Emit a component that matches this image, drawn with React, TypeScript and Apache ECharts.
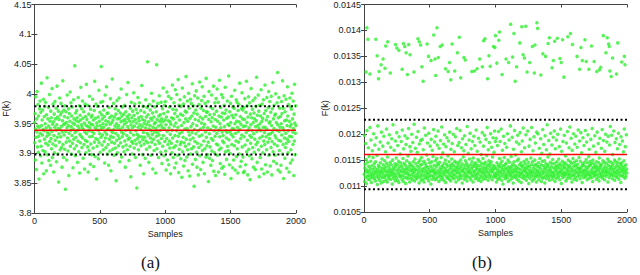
import React, { useEffect, useRef } from "react";
import * as echarts from "echarts";

// ---- data ----
const sampleStep = 2; // every 2nd sample shown
const leftValues = [
3.952,3.918,3.967,3.889,3.941,3.995,3.927,3.873,3.958,3.936,4.004,3.911,3.946,3.982,3.902,3.963,3.929,3.857,3.944,3.975,
3.921,3.988,3.934,3.896,3.969,3.912,4.018,3.947,3.884,3.956,3.931,3.973,3.905,3.940,3.991,3.866,3.938,3.962,3.924,3.979,
3.903,3.950,3.986,3.917,3.943,3.871,3.965,3.929,4.027,3.935,3.898,3.958,3.914,3.977,3.946,3.888,3.932,3.999,3.920,3.954,
3.942,3.880,3.971,3.925,3.960,3.908,3.937,4.009,3.893,3.949,3.916,3.983,3.953,3.869,3.930,3.966,3.901,3.944,3.987,3.922,
3.958,3.913,3.939,3.976,3.886,3.948,4.013,3.927,3.961,3.899,3.942,3.971,3.852,3.933,3.957,3.919,3.993,3.940,3.906,3.965,
3.928,3.984,3.945,3.910,3.969,3.877,3.936,3.955,4.022,3.915,3.948,3.893,3.973,3.931,3.962,3.907,3.950,3.980,3.840,3.937,
3.970,3.919,3.952,3.889,3.943,3.998,3.926,3.960,3.904,3.947,3.975,3.863,3.934,3.967,3.921,3.954,4.003,3.912,3.939,3.985,
3.945,3.899,3.963,3.930,3.978,3.917,3.951,3.876,3.941,3.990,3.924,3.958,3.908,3.949,4.047,3.935,3.896,3.968,3.927,3.955,
3.913,3.972,3.938,3.960,3.885,3.946,3.921,3.994,3.953,3.903,3.942,3.980,3.867,3.932,3.964,3.918,3.956,4.011,3.929,3.948,
3.975,3.910,3.944,3.988,3.926,3.959,3.892,3.940,3.970,3.915,3.951,3.874,3.936,3.983,3.922,3.962,3.901,3.947,4.016,3.933,
3.957,3.920,3.981,3.911,3.945,3.869,3.938,3.966,3.905,3.952,3.996,3.928,3.943,3.882,3.974,3.916,3.949,3.961,3.898,3.937,
3.964,3.929,3.991,3.948,3.909,3.956,3.878,3.934,3.972,3.919,4.021,3.943,3.895,3.959,3.925,3.983,3.940,3.857,3.951,3.912,
3.946,3.979,3.923,3.961,3.891,3.939,4.006,3.918,3.954,3.933,3.969,3.902,3.947,3.986,3.927,4.046,3.942,3.965,3.914,3.958,
3.931,3.987,3.950,3.906,3.944,3.973,3.920,3.962,3.884,3.936,3.998,3.926,3.955,3.910,3.948,4.012,3.932,3.967,3.899,3.940,
3.968,3.915,3.953,3.880,3.942,3.977,3.924,3.960,3.904,3.949,3.992,3.929,3.871,3.938,3.963,3.919,3.952,4.025,3.935,3.907,
3.956,3.927,3.984,3.940,3.897,3.961,3.917,3.946,3.975,3.909,3.934,3.966,3.854,3.950,3.922,3.989,3.943,3.901,3.958,3.930,
3.972,3.913,3.947,3.993,3.925,3.959,3.886,3.941,3.968,3.918,3.953,4.008,3.936,3.894,3.963,3.928,3.978,3.944,3.911,3.955,
3.933,3.966,3.903,3.949,3.981,3.921,3.957,3.877,3.939,3.970,3.914,3.952,3.999,3.930,3.962,3.906,3.945,4.019,3.924,3.958,
3.940,3.888,3.965,3.926,3.954,3.912,3.976,3.935,3.861,3.948,3.986,3.920,3.960,3.899,3.943,3.971,3.917,3.953,3.931,4.002,
3.964,3.909,3.946,3.983,3.922,3.957,3.893,3.938,3.974,3.916,3.951,3.842,3.932,3.968,3.925,3.994,3.944,3.906,3.960,3.929,
3.955,3.985,3.919,3.948,3.880,3.940,3.972,3.913,3.962,3.928,4.014,3.945,3.898,3.957,3.923,3.979,3.935,3.866,3.950,3.916,
3.969,3.927,3.955,3.892,3.943,3.990,3.921,3.961,3.907,3.949,3.977,3.934,4.054,3.918,3.965,3.930,3.953,3.885,3.941,3.982,
3.911,3.947,3.973,3.926,3.959,3.897,3.938,4.001,3.919,3.956,3.932,3.968,3.874,3.944,3.988,3.924,3.961,3.905,3.950,3.936,
3.978,3.915,3.952,3.867,3.942,3.970,3.929,4.049,3.908,3.957,3.935,3.984,3.921,3.946,3.893,3.963,3.931,3.997,3.917,3.954,
3.939,3.965,3.902,3.948,3.986,3.925,3.958,3.883,3.944,3.975,3.912,3.953,4.010,3.930,3.967,3.896,3.942,3.981,3.920,3.956,
3.987,3.904,3.948,3.872,3.961,3.925,4.003,3.937,3.889,3.970,3.915,3.955,3.996,3.881,3.943,3.921,3.978,3.909,3.953,3.932,
3.866,3.949,3.992,3.917,3.960,3.901,3.939,4.015,3.926,3.974,3.893,3.958,3.910,3.985,3.946,3.876,3.967,3.930,4.007,3.913,
3.951,3.884,3.973,3.938,3.999,3.920,3.962,3.897,3.944,4.024,3.929,3.868,3.981,3.907,3.956,3.934,3.990,3.915,3.966,3.891,
3.979,3.919,3.947,3.860,3.936,4.010,3.903,3.964,3.927,3.983,3.879,3.952,3.918,3.995,3.941,3.888,3.971,3.912,3.958,4.029,
3.924,3.969,3.894,3.942,3.988,3.906,3.954,3.871,3.937,4.001,3.916,3.976,3.931,3.862,3.959,3.923,3.991,3.899,3.945,3.984,
3.908,3.963,3.935,4.017,3.882,3.950,3.926,3.980,3.911,3.968,3.845,3.940,3.997,3.920,3.957,3.890,3.973,3.933,4.005,3.902,
3.947,3.877,3.966,3.917,3.993,3.938,3.864,3.955,3.910,3.982,3.929,4.020,3.896,3.961,3.941,3.873,3.976,3.914,3.951,3.989,
3.931,4.012,3.905,3.958,3.885,3.944,3.972,3.921,3.996,3.866,3.949,3.908,3.984,3.936,3.962,3.894,4.026,3.927,3.969,3.913,
3.970,3.898,3.943,3.987,3.919,3.853,3.957,4.004,3.933,3.892,3.965,3.911,3.978,3.940,3.880,3.953,3.925,3.998,3.904,3.960,
3.888,3.975,3.922,3.946,4.013,3.870,3.938,3.966,3.901,3.985,3.929,3.957,3.863,3.944,3.992,3.916,3.971,3.934,4.008,3.897,
3.954,3.914,3.986,3.869,3.939,3.963,3.906,4.023,3.928,3.950,3.883,3.977,3.943,3.909,3.961,3.999,3.875,3.936,3.968,3.921,
3.994,3.930,3.878,3.956,3.918,3.981,3.945,3.865,3.967,4.011,3.903,3.938,3.973,3.926,3.890,3.959,3.935,3.988,3.912,3.949,
3.905,3.961,4.030,3.923,3.947,3.881,3.970,3.937,3.900,3.984,3.952,3.858,3.932,3.996,3.915,3.964,3.942,3.876,3.978,3.928,
3.960,3.889,3.941,3.976,3.913,4.006,3.950,3.872,3.934,3.965,3.921,3.990,3.895,3.954,3.986,3.908,3.944,3.867,3.972,3.937,
3.919,3.982,3.953,3.899,4.018,3.940,3.878,3.962,3.925,3.949,3.887,3.975,3.931,4.002,3.911,3.958,3.973,3.894,3.945,3.868,
3.977,3.928,3.870,3.957,3.992,3.914,3.946,3.881,3.969,3.935,4.021,3.903,3.952,3.980,3.922,3.864,3.961,3.939,3.995,3.907,
3.943,3.896,3.985,3.930,3.856,3.966,3.917,3.948,4.009,3.927,3.960,3.891,3.938,3.974,3.910,3.989,3.952,3.877,3.933,3.968,
3.902,3.958,3.924,3.993,3.873,3.945,3.979,3.915,3.955,4.028,3.937,3.885,3.964,3.919,3.947,3.998,3.906,3.971,3.942,3.861,
3.981,3.926,3.950,3.893,3.963,3.938,4.007,3.912,3.874,3.954,3.983,3.929,3.959,3.901,3.944,3.990,3.921,3.866,3.967,3.935,
3.915,4.015,3.944,3.881,3.972,3.928,3.956,3.906,3.994,3.940,3.869,3.962,3.919,3.977,3.932,4.004,3.897,3.951,3.925,3.987,
3.953,3.879,3.933,3.969,3.910,3.996,3.947,3.864,3.920,3.975,3.936,4.019,3.903,3.958,3.887,3.942,3.981,3.916,3.964,3.930,
3.897,3.966,4.000,3.926,3.952,3.883,3.939,3.985,3.913,4.036,3.948,3.872,3.960,3.922,3.994,3.937,3.905,3.976,3.944,3.869,
3.962,3.921,3.880,3.950,3.987,3.931,3.967,3.899,4.022,3.943,3.915,3.976,3.858,3.939,3.997,3.926,3.955,3.892,3.970,3.910,
3.934,3.991,3.917,3.956,3.875,3.947,3.924,4.012,3.963,3.901,3.938,3.982,3.920,3.869,3.954,3.929,3.993,3.945,3.884,3.978,
3.906,3.949,3.974,3.928,4.001,3.889,3.958,3.936,3.915,3.988,3.942,3.863,3.966,3.921,4.016,3.951,3.898,3.934,3.980,3.947,
];
const leftMean = 3.939;
const leftBounds = [3.979, 3.898];

const rightLowerValues = [
0.01123,0.01198,0.01109,0.01135,0.01142,0.01117,0.01182,0.01128,0.01151,0.01105,0.01131,0.01207,0.01119,0.01146,0.01126,0.01113,0.01174,0.01138,0.01121,0.01157,
0.01129,0.01112,0.01213,0.01134,0.01118,0.01148,0.01189,0.01125,0.01107,0.01139,0.01122,0.01168,0.01116,0.01132,0.01155,0.01120,0.01201,0.01127,0.01143,0.01114,
0.01136,0.01179,0.01124,0.01110,0.01147,0.01130,0.01193,0.01118,0.01126,0.01159,0.01103,0.01133,0.01216,0.01121,0.01140,0.01115,0.01171,0.01128,0.01137,0.01111,
0.01124,0.01185,0.01145,0.01119,0.01131,0.01106,0.01204,0.01127,0.01152,0.01116,0.01135,0.01177,0.01123,0.01141,0.01109,0.01196,0.01129,0.01117,0.01149,0.01133,
0.01120,0.01166,0.01137,0.01112,0.01127,0.01210,0.01144,0.01122,0.01108,0.01156,0.01130,0.01183,0.01118,0.01139,0.01125,0.01114,0.01199,0.01134,0.01120,0.01146,
0.01128,0.01175,0.01113,0.01141,0.01123,0.01191,0.01131,0.01104,0.01150,0.01126,0.01218,0.01119,0.01136,0.01115,0.01169,0.01132,0.01124,0.01143,0.01110,0.01187,
0.01138,0.01121,0.01154,0.01116,0.01203,0.01129,0.01142,0.01111,0.01178,0.01133,0.01125,0.01148,0.01107,0.01195,0.01122,0.01137,0.01118,0.01162,0.01130,0.01145,
0.01119,0.01186,0.01127,0.01139,0.01113,0.01208,0.01134,0.01121,0.01153,0.01109,0.01172,0.01128,0.01144,0.01116,0.01131,0.01197,0.01124,0.01140,0.01105,0.01180,
0.01135,0.01117,0.01149,0.01126,0.01192,0.01132,0.01114,0.01158,0.01123,0.01211,0.01137,0.01120,0.01145,0.01108,0.01176,0.01129,0.01141,0.01115,0.01167,0.01133,
0.01122,0.01200,0.01139,0.01112,0.01130,0.01184,0.01125,0.01147,0.01118,0.01136,0.01219,0.01127,0.01110,0.01152,0.01132,0.01173,0.01121,0.01143,0.01116,0.01194,
0.01131,0.01114,0.01165,0.01138,0.01124,0.01205,0.01119,0.01146,0.01128,0.01106,0.01181,0.01134,0.01150,0.01117,0.01140,0.01188,0.01123,0.01111,0.01155,0.01129,
0.01142,0.01190,0.01120,0.01133,0.01113,0.01170,0.01127,0.01148,0.01108,0.01212,0.01135,0.01122,0.01144,0.01116,0.01198,0.01130,0.01139,0.01119,0.01160,0.01126,
0.01115,0.01183,0.01136,0.01124,0.01151,0.01110,0.01202,0.01132,0.01118,0.01145,0.01127,0.01177,0.01121,0.01138,0.01104,0.01190,0.01129,0.01147,0.01113,0.01169,
0.01134,0.01120,0.01157,0.01128,0.01209,0.01117,0.01140,0.01125,0.01185,0.01131,0.01112,0.01149,0.01123,0.01196,0.01137,0.01114,0.01153,0.01126,0.01179,0.01143,
0.01118,0.01206,0.01130,0.01141,0.01109,0.01173,0.01124,0.01146,0.01119,0.01135,0.01188,0.01127,0.01113,0.01155,0.01132,0.01214,0.01121,0.01139,0.01116,0.01164,
0.01137,0.01125,0.01181,0.01111,0.01144,0.01128,0.01199,0.01122,0.01134,0.01150,0.01107,0.01176,0.01130,0.01118,0.01142,0.01193,0.01126,0.01138,0.01115,0.01158,
0.01129,0.01187,0.01120,0.01147,0.01113,0.01204,0.01133,0.01124,0.01140,0.01110,0.01171,0.01136,0.01119,0.01152,0.01127,0.01182,0.01143,0.01116,0.01131,0.01200,
0.01123,0.01139,0.01114,0.01166,0.01130,0.01148,0.01121,0.01195,0.01135,0.01108,0.01145,0.01128,0.01211,0.01117,0.01137,0.01125,0.01178,0.01132,0.01141,0.01112,
0.01146,0.01184,0.01126,0.01119,0.01134,0.01207,0.01122,0.01150,0.01115,0.01138,0.01174,0.01129,0.01143,0.01106,0.01191,0.01131,0.01120,0.01156,0.01127,0.01168,
0.01135,0.01113,0.01197,0.01140,0.01124,0.01149,0.01117,0.01180,0.01133,0.01121,0.01144,0.01110,0.01215,0.01128,0.01139,0.01118,0.01163,0.01136,0.01125,0.01189,
0.01130,0.01152,0.01116,0.01202,0.01127,0.01141,0.01112,0.01172,0.01134,0.01123,0.01147,0.01119,0.01186,0.01137,0.01108,0.01154,0.01129,0.01196,0.01142,0.01120,
0.01126,0.01178,0.01138,0.01114,0.01145,0.01131,0.01208,0.01122,0.01135,0.01117,0.01167,0.01140,0.01124,0.01151,0.01111,0.01192,0.01133,0.01128,0.01148,0.01115,
0.01139,0.01185,0.01121,0.01132,0.01109,0.01161,0.01127,0.01144,0.01118,0.01203,0.01136,0.01125,0.01153,0.01113,0.01177,0.01130,0.01142,0.01120,0.01198,0.01134,
0.01124,0.01146,0.01115,0.01190,0.01137,0.01128,0.01159,0.01119,0.01213,0.01133,0.01141,0.01111,0.01170,0.01126,0.01149,0.01122,0.01184,0.01138,0.01116,0.01143,
0.01131,0.01201,0.01120,0.01147,0.01127,0.01175,0.01135,0.01112,0.01156,0.01129,0.01193,0.01140,0.01118,0.01133,0.01165,0.01124,0.01206,0.01137,0.01121,0.01186,
0.01117,0.01134,0.01192,0.01108,0.01126,0.01145,0.01121,0.01178,0.01131,0.01113,0.01140,0.01205,0.01124,0.01137,0.01115,0.01153,0.01129,0.01186,0.01119,0.01143,
0.01127,0.01210,0.01136,0.01111,0.01148,0.01123,0.01169,0.01132,0.01104,0.01139,0.01196,0.01118,0.01130,0.01155,0.01125,0.01182,0.01141,0.01114,0.01135,0.01120,
0.01144,0.01122,0.01175,0.01133,0.01116,0.01201,0.01128,0.01150,0.01109,0.01137,0.01126,0.01189,0.01121,0.01146,0.01131,0.01112,0.01216,0.01135,0.01124,0.01157,
0.01119,0.01138,0.01129,0.01194,0.01115,0.01142,0.01125,0.01106,0.01171,0.01133,0.01147,0.01120,0.01207,0.01128,0.01139,0.01117,0.01160,0.01131,0.01122,0.01185,
0.01136,0.01113,0.01149,0.01127,0.01198,0.01120,0.01134,0.01152,0.01110,0.01181,0.01126,0.01141,0.01118,0.01203,0.01132,0.01123,0.01145,0.01107,0.01166,0.01138,
0.01125,0.01187,0.01116,0.01140,0.01129,0.01212,0.01121,0.01135,0.01148,0.01114,0.01174,0.01130,0.01119,0.01143,0.01127,0.01199,0.01136,0.01111,0.01151,0.01124,
0.01133,0.01118,0.01206,0.01139,0.01122,0.01146,0.01105,0.01177,0.01128,0.01137,0.01115,0.01190,0.01131,0.01124,0.01154,0.01119,0.01141,0.01213,0.01126,0.01110,
0.01147,0.01129,0.01168,0.01120,0.01135,0.01113,0.01195,0.01140,0.01125,0.01150,0.01116,0.01183,0.01132,0.01121,0.01142,0.01108,0.01204,0.01127,0.01138,0.01119,
0.01130,0.01201,0.01123,0.01145,0.01112,0.01137,0.01173,0.01126,0.01153,0.01118,0.01134,0.01191,0.01122,0.01141,0.01109,0.01163,0.01129,0.01148,0.01115,0.01209,
0.01124,0.01139,0.01117,0.01180,0.01133,0.01127,0.01149,0.01106,0.01197,0.01136,0.01120,0.01143,0.01114,0.01170,0.01131,0.01125,0.01218,0.01138,0.01121,0.01156,
0.01141,0.01116,0.01188,0.01128,0.01134,0.01111,0.01162,0.01122,0.01146,0.01202,0.01130,0.01119,0.01137,0.01126,0.01179,0.01143,0.01113,0.01151,0.01124,0.01194,
0.01118,0.01135,0.01127,0.01206,0.01121,0.01144,0.01109,0.01172,0.01132,0.01138,0.01115,0.01189,0.01129,0.01147,0.01123,0.01136,0.01200,0.01117,0.01140,0.01126,
0.01152,0.01120,0.01176,0.01134,0.01112,0.01143,0.01128,0.01210,0.01125,0.01139,0.01105,0.01167,0.01131,0.01121,0.01148,0.01116,0.01186,0.01135,0.01124,0.01142,
0.01127,0.01198,0.01137,0.01119,0.01145,0.01123,0.01158,0.01110,0.01133,0.01183,0.01126,0.01141,0.01114,0.01205,0.01130,0.01122,0.01150,0.01136,0.01118,0.01174,
0.01139,0.01124,0.01214,0.01129,0.01147,0.01115,0.01135,0.01192,0.01121,0.01144,0.01108,0.01169,0.01132,0.01127,0.01153,0.01120,0.01201,0.01138,0.01113,0.01146,
0.01123,0.01181,0.01131,0.01140,0.01117,0.01196,0.01128,0.01149,0.01111,0.01136,0.01175,0.01125,0.01142,0.01119,0.01208,0.01134,0.01122,0.01155,0.01129,0.01187,
0.01135,0.01114,0.01148,0.01126,0.01203,0.01133,0.01120,0.01164,0.01138,0.01107,0.01143,0.01128,0.01193,0.01124,0.01140,0.01116,0.01178,0.01131,0.01146,0.01121,
0.01129,0.01207,0.01118,0.01137,0.01151,0.01125,0.01185,0.01132,0.01112,0.01145,0.01122,0.01199,0.01136,0.01127,0.01157,0.01115,0.01171,0.01139,0.01123,0.01148,
0.01141,0.01120,0.01190,0.01130,0.01116,0.01144,0.01126,0.01211,0.01134,0.01109,0.01150,0.01124,0.01177,0.01137,0.01119,0.01143,0.01128,0.01197,0.01121,0.01135,
0.01126,0.01165,0.01139,0.01113,0.01147,0.01131,0.01204,0.01122,0.01136,0.01117,0.01182,0.01129,0.01145,0.01110,0.01154,0.01133,0.01192,0.01124,0.01140,0.01118,
0.01137,0.01125,0.01173,0.01142,0.01120,0.01209,0.01130,0.01115,0.01149,0.01127,0.01188,0.01134,0.01121,0.01146,0.01112,0.01167,0.01138,0.01126,0.01200,0.01131,
0.01119,0.01144,0.01128,0.01185,0.01135,0.01123,0.01152,0.01108,0.01196,0.01140,0.01127,0.01148,0.01116,0.01179,0.01132,0.01121,0.01215,0.01137,0.01125,0.01146,
0.01134,0.01198,0.01122,0.01139,0.01114,0.01161,0.01129,0.01143,0.01120,0.01206,0.01133,0.01126,0.01150,0.01111,0.01184,0.01136,0.01124,0.01147,0.01118,0.01191,
0.01128,0.01140,0.01117,0.01172,0.01131,0.01145,0.01123,0.01202,0.01137,0.01113,0.01152,0.01126,0.01180,0.01134,0.01120,0.01143,0.01107,0.01195,0.01130,0.01139,
0.01145,0.01121,0.01187,0.01127,0.01135,0.01118,0.01166,0.01132,0.01149,0.01210,0.01124,0.01138,0.01115,0.01176,0.01129,0.01141,0.01119,0.01199,0.01133,0.01125,
];
const rightUpperSamples = [
15,22,30,45,90,100,110,115,130,145,160,165,180,200,240,250,265,290,300,310,320,330,340,350,380,410,420,430,440,450,
480,490,510,530,540,545,555,565,580,595,620,640,650,660,670,690,710,725,735,760,770,820,840,860,880,900,910,920,940,950,
960,985,995,1000,1010,1025,1030,1050,1080,1100,1115,1130,1140,1150,1160,1185,1200,1210,1220,1230,1240,1260,1280,1295,1300,1315,1320,1345,1360,1380,
1400,1410,1430,1440,1450,1470,1490,1500,1510,1520,1550,1570,1585,1620,1640,1650,1660,1680,1690,1710,1730,1750,1770,1790,1800,1820,1840,1850,1860,1865,
1870,1880,1890,1920,1930,1960,1980,1985,
];
const rightUpperValues = [
0.01320,0.01405,0.01383,0.01316,0.01383,0.01351,0.01307,0.01321,0.01334,0.01345,0.01327,0.01370,0.01378,0.01318,0.01373,0.01366,0.01362,0.01325,0.01375,0.01369,0.01357,0.01315,0.01373,0.01353,0.01320,0.01384,0.01378,0.01372,0.01330,0.01302,
0.01374,0.01350,0.01342,0.01391,0.01345,0.01313,0.01405,0.01348,0.01369,0.01372,0.01326,0.01321,0.01338,0.01305,0.01374,0.01322,0.01357,0.01387,0.01309,0.01348,0.01343,0.01321,0.01322,0.01326,0.01345,0.01330,0.01380,0.01384,0.01307,0.01351,
0.01331,0.01369,0.01367,0.01390,0.01337,0.01381,0.01397,0.01315,0.01345,0.01338,0.01412,0.01349,0.01394,0.01302,0.01330,0.01376,0.01407,0.01353,0.01347,0.01408,0.01320,0.01338,0.01369,0.01318,0.01372,0.01415,0.01404,0.01314,0.01355,0.01350,
0.01375,0.01386,0.01328,0.01342,0.01379,0.01385,0.01346,0.01338,0.01382,0.01310,0.01388,0.01394,0.01373,0.01350,0.01325,0.01367,0.01342,0.01382,0.01340,0.01325,0.01370,0.01340,0.01321,0.01324,0.01329,0.01390,0.01357,0.01386,0.01374,0.01369,
0.01322,0.01311,0.01347,0.01316,0.01376,0.01339,0.01350,0.01334,
];
const rightMean = 0.01161;
const rightBounds = [0.01228, 0.01094];

const xTicks = [0, 500, 1000, 1500, 2000];
const leftYRange = [3.8, 4.15, 0.05];
const rightYRange = [0.0105, 0.0145, 0.0005];
const captions = ["(a)", "(b)"];

const FONT = "Liberation Sans, Arial, sans-serif";
const GREEN = "#2ef02e";

function fmt(v: number) {
  return String(parseFloat(v.toFixed(5)));
}

export default function App() {
  const ref = useRef<HTMLDivElement>(null);
  useEffect(() => {
    if (!ref.current) return;
    const chart = echarts.init(ref.current, undefined, { renderer: "svg" });
    const grids = [
      { left: 30, top: 4, width: 266, height: 209 },
      { left: 364, top: 4, width: 267, height: 208 },
    ];
    const yr = [leftYRange, rightYRange];
    const xMin = xTicks[0];
    const xMax = xTicks[xTicks.length - 1];
    const xAxes: any[] = [];
    const yAxes: any[] = [];
    grids.forEach((_, g) => {
      const base = {
        gridIndex: g,
        axisLine: { show: true, lineStyle: { color: "#444", width: 1 } },
        axisTick: { show: true, inside: true, length: 3, lineStyle: { color: "#444" } },
        splitLine: { show: false },
      };
      xAxes.push({
        ...base,
        type: "value",
        min: xMin,
        max: xMax,
        interval: 500,
        position: "bottom",
        name: "Samples",
        nameLocation: "middle",
        nameGap: 13,
        nameTextStyle: { fontFamily: FONT, fontSize: 9, color: "#222" },
        axisLabel: { fontFamily: FONT, fontSize: 9, color: "#222", margin: 3, formatter: (v: number) => String(v) },
      });
      xAxes.push({
        ...base,
        type: "value",
        min: xMin,
        max: xMax,
        interval: 500,
        position: "top",
        axisLabel: { show: false },
      });
      yAxes.push({
        ...base,
        type: "value",
        min: yr[g][0],
        max: yr[g][1],
        interval: yr[g][2],
        position: "left",
        name: "F(k)",
        nameLocation: "middle",
        nameGap: g === 0 ? 22 : 31,
        nameTextStyle: { fontFamily: FONT, fontSize: 9, color: "#222" },
        axisLabel: { fontFamily: FONT, fontSize: 9, color: "#222", margin: 3, formatter: fmt },
      });
      yAxes.push({
        ...base,
        type: "value",
        min: yr[g][0],
        max: yr[g][1],
        interval: yr[g][2],
        position: "right",
        axisLabel: { show: false },
      });
    });

    const scatterBase = {
      type: "scatter",
      symbol: "circle",
      symbolSize: 3.5,
      itemStyle: { color: GREEN, opacity: 0.8 },
      silent: true,
      z: 2,
    };

    const hLine = (axisIdx: number, value: number, isMean: boolean) => ({
      type: "line",
      xAxisIndex: axisIdx,
      yAxisIndex: axisIdx,
      data: [
        [xMin, value],
        [xMax, value],
      ],
      symbol: "none",
      silent: true,
      z: 3,
      lineStyle: isMean
        ? { color: "#ff0000", width: 1.5, type: "solid" }
        : { color: "#000000", width: 2, type: [2, 2.5] },
    });

    chart.setOption({
      animation: false,
      grid: grids.map((g) => ({ ...g, show: false })),
      xAxis: xAxes,
      yAxis: yAxes,
      graphic: captions.map((c, i) => ({
        type: "text",
        left: i === 0 ? 141 : 472,
        top: 254,
        style: { text: c, fontFamily: "Liberation Serif, DejaVu Serif, serif", fontSize: 17, fill: "#111" },
      })),
      series: [
        {
          ...scatterBase,
          xAxisIndex: 0,
          yAxisIndex: 0,
          data: leftValues.map((v, i) => [i * sampleStep + 1, v]),
        },
        {
          ...scatterBase,
          xAxisIndex: 2,
          yAxisIndex: 2,
          data: rightLowerValues.map((v, i) => [i * sampleStep + 1, v]),
        },
        {
          ...scatterBase,
          xAxisIndex: 2,
          yAxisIndex: 2,
          data: rightUpperSamples.map((s, i) => [s, rightUpperValues[i]]),
        },
        hLine(0, leftMean, true),
        ...leftBounds.map((b) => hLine(0, b, false)),
        hLine(2, rightMean, true),
        ...rightBounds.map((b) => hLine(2, b, false)),
      ],
    });
    return () => chart.dispose();
  }, []);
  return <div ref={ref} style={{ position: "fixed", left: 0, top: 0, width: 640, height: 275, background: "#fff" }} />;
}
